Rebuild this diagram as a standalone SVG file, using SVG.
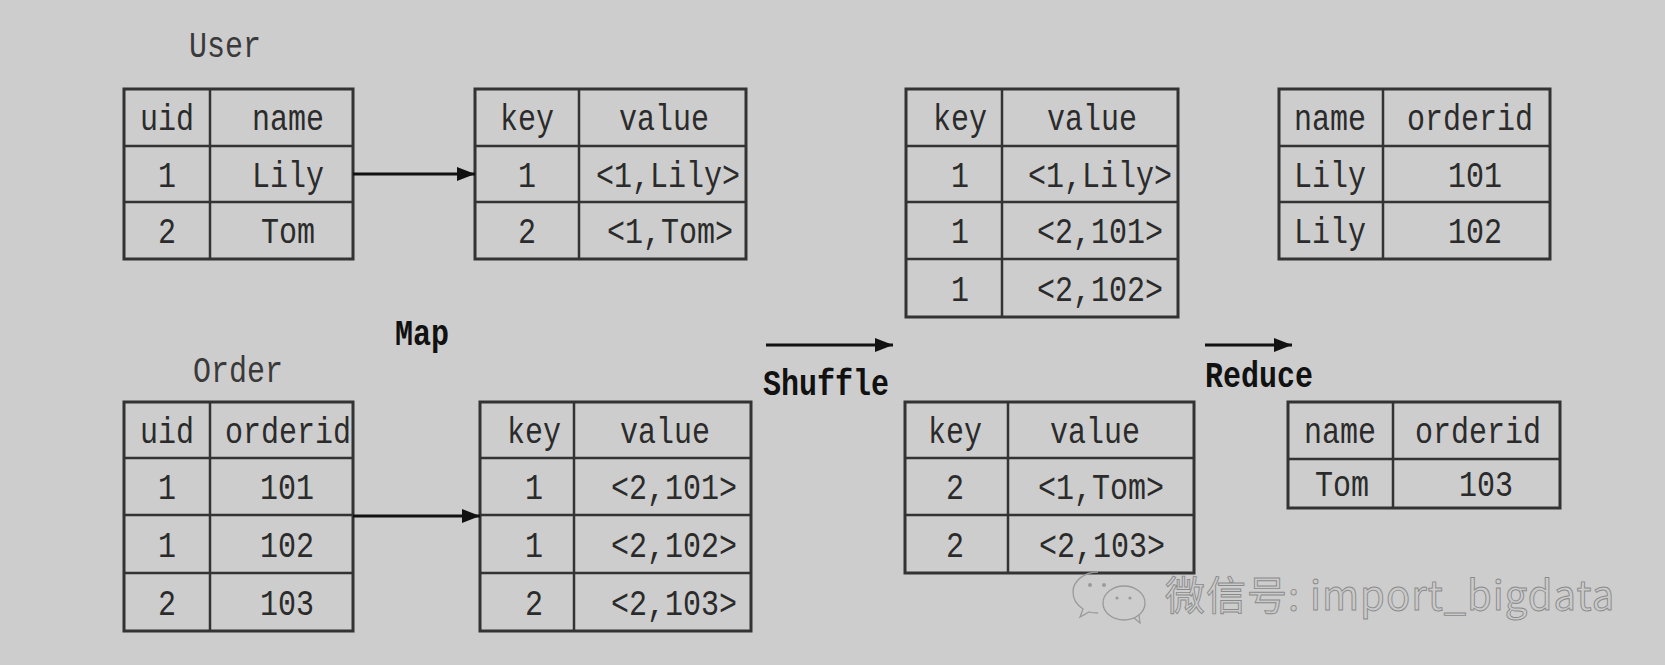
<svg xmlns="http://www.w3.org/2000/svg" width="1665" height="665" viewBox="0 0 1665 665">
<defs>
<style>
.bg{fill:#cdcdcd}
.tb rect{fill:none;stroke:#333;stroke-width:3}
.tb line{stroke:#333;stroke-width:2.5}
.t{font-family:"Liberation Mono","DejaVu Sans Mono",monospace;font-size:30px;fill:#2b2b2b;text-anchor:middle}
.lbl{font-family:"Liberation Mono","DejaVu Sans Mono",monospace;font-size:30px;fill:#3a3a3a;text-anchor:middle}
.b{font-family:"Liberation Mono","DejaVu Sans Mono",monospace;font-size:30px;font-weight:bold;fill:#111}
.conn line{stroke:#111;stroke-width:3}
.wm{font-family:"Noto Sans CJK SC","Noto Sans",sans-serif;font-size:40px;letter-spacing:1px;fill:#cacaca;stroke:#8a8a8a;stroke-width:0.9}
.ic{fill:none;stroke:#9a9a9a;stroke-width:1.3}
</style>
<marker id="ah" markerUnits="userSpaceOnUse" markerWidth="18" markerHeight="14" refX="18" refY="7" orient="auto">
<path d="M0,0 L18,7 L0,14 Z" fill="#111"/>
</marker>
</defs>
<rect class="bg" x="0" y="0" width="1665" height="665"/>

<g id="label-user"><text class="lbl" transform="translate(225,57) scale(1,1.25)">User</text></g>
<g id="label-order"><text class="lbl" transform="translate(238,382) scale(1,1.25)">Order</text></g>

<g id="table-user" class="tb">
<rect x="124" y="89" width="229" height="170"/>
<line x1="210" y1="89" x2="210" y2="259"/>
<line x1="124" y1="146" x2="353" y2="146"/>
<line x1="124" y1="202" x2="353" y2="202"/>
<text class="t" transform="translate(167,130) scale(1,1.25)">uid</text>
<text class="t" transform="translate(288,130) scale(1,1.25)">name</text>
<text class="t" transform="translate(167,186.5) scale(1,1.25)">1</text>
<text class="t" transform="translate(288,186.5) scale(1,1.25)">Lily</text>
<text class="t" transform="translate(167,243) scale(1,1.25)">2</text>
<text class="t" transform="translate(288,243) scale(1,1.25)">Tom</text>
</g>

<g id="table-map-user" class="tb">
<rect x="475" y="89" width="271" height="170"/>
<line x1="579" y1="89" x2="579" y2="259"/>
<line x1="475" y1="146" x2="746" y2="146"/>
<line x1="475" y1="202" x2="746" y2="202"/>
<text class="t" transform="translate(527,130) scale(1,1.25)">key</text>
<text class="t" transform="translate(664,130) scale(1,1.25)">value</text>
<text class="t" transform="translate(527,186.5) scale(1,1.25)">1</text>
<text class="t" transform="translate(668,186.5) scale(1,1.25)">&lt;1,Lily&gt;</text>
<text class="t" transform="translate(527,243) scale(1,1.25)">2</text>
<text class="t" transform="translate(670,243) scale(1,1.25)">&lt;1,Tom&gt;</text>
</g>

<g id="table-order" class="tb">
<rect x="124" y="402" width="229" height="229"/>
<line x1="210" y1="402" x2="210" y2="631"/>
<line x1="124" y1="458" x2="353" y2="458"/>
<line x1="124" y1="515" x2="353" y2="515"/>
<line x1="124" y1="573" x2="353" y2="573"/>
<text class="t" transform="translate(167,442.5) scale(1,1.25)">uid</text>
<text class="t" transform="translate(288,442.5) scale(1,1.25)">orderid</text>
<text class="t" transform="translate(167,499) scale(1,1.25)">1</text>
<text class="t" transform="translate(287,499) scale(1,1.25)">101</text>
<text class="t" transform="translate(167,556.5) scale(1,1.25)">1</text>
<text class="t" transform="translate(287,556.5) scale(1,1.25)">102</text>
<text class="t" transform="translate(167,614.5) scale(1,1.25)">2</text>
<text class="t" transform="translate(287,614.5) scale(1,1.25)">103</text>
</g>

<g id="table-map-order" class="tb">
<rect x="480" y="402" width="271" height="229"/>
<line x1="574" y1="402" x2="574" y2="631"/>
<line x1="480" y1="458" x2="751" y2="458"/>
<line x1="480" y1="515" x2="751" y2="515"/>
<line x1="480" y1="573" x2="751" y2="573"/>
<text class="t" transform="translate(534,442.5) scale(1,1.25)">key</text>
<text class="t" transform="translate(665,442.5) scale(1,1.25)">value</text>
<text class="t" transform="translate(534,499) scale(1,1.25)">1</text>
<text class="t" transform="translate(674,499) scale(1,1.25)">&lt;2,101&gt;</text>
<text class="t" transform="translate(534,556.5) scale(1,1.25)">1</text>
<text class="t" transform="translate(674,556.5) scale(1,1.25)">&lt;2,102&gt;</text>
<text class="t" transform="translate(534,614.5) scale(1,1.25)">2</text>
<text class="t" transform="translate(674,614.5) scale(1,1.25)">&lt;2,103&gt;</text>
</g>

<g id="table-shuffle-1" class="tb">
<rect x="906" y="89" width="272" height="228"/>
<line x1="1002" y1="89" x2="1002" y2="317"/>
<line x1="906" y1="146" x2="1178" y2="146"/>
<line x1="906" y1="202" x2="1178" y2="202"/>
<line x1="906" y1="259" x2="1178" y2="259"/>
<text class="t" transform="translate(960,130) scale(1,1.25)">key</text>
<text class="t" transform="translate(1092,130) scale(1,1.25)">value</text>
<text class="t" transform="translate(960,186.5) scale(1,1.25)">1</text>
<text class="t" transform="translate(1100,186.5) scale(1,1.25)">&lt;1,Lily&gt;</text>
<text class="t" transform="translate(960,243) scale(1,1.25)">1</text>
<text class="t" transform="translate(1100,243) scale(1,1.25)">&lt;2,101&gt;</text>
<text class="t" transform="translate(960,300.5) scale(1,1.25)">1</text>
<text class="t" transform="translate(1100,300.5) scale(1,1.25)">&lt;2,102&gt;</text>
</g>

<g id="table-shuffle-2" class="tb">
<rect x="905" y="402" width="289" height="171"/>
<line x1="1008" y1="402" x2="1008" y2="573"/>
<line x1="905" y1="458" x2="1194" y2="458"/>
<line x1="905" y1="515" x2="1194" y2="515"/>
<text class="t" transform="translate(955,442.5) scale(1,1.25)">key</text>
<text class="t" transform="translate(1095,442.5) scale(1,1.25)">value</text>
<text class="t" transform="translate(955,499) scale(1,1.25)">2</text>
<text class="t" transform="translate(1101,499) scale(1,1.25)">&lt;1,Tom&gt;</text>
<text class="t" transform="translate(955,556.5) scale(1,1.25)">2</text>
<text class="t" transform="translate(1102,556.5) scale(1,1.25)">&lt;2,103&gt;</text>
</g>

<g id="table-reduce-1" class="tb">
<rect x="1279" y="89" width="271" height="170"/>
<line x1="1383" y1="89" x2="1383" y2="259"/>
<line x1="1279" y1="146" x2="1550" y2="146"/>
<line x1="1279" y1="202" x2="1550" y2="202"/>
<text class="t" transform="translate(1330,130) scale(1,1.25)">name</text>
<text class="t" transform="translate(1470,130) scale(1,1.25)">orderid</text>
<text class="t" transform="translate(1330,186.5) scale(1,1.25)">Lily</text>
<text class="t" transform="translate(1475,186.5) scale(1,1.25)">101</text>
<text class="t" transform="translate(1330,243) scale(1,1.25)">Lily</text>
<text class="t" transform="translate(1475,243) scale(1,1.25)">102</text>
</g>

<g id="table-reduce-2" class="tb">
<rect x="1288" y="402" width="272" height="106"/>
<line x1="1393" y1="402" x2="1393" y2="508"/>
<line x1="1288" y1="459" x2="1560" y2="459"/>
<text class="t" transform="translate(1340,443) scale(1,1.25)">name</text>
<text class="t" transform="translate(1478,443) scale(1,1.25)">orderid</text>
<text class="t" transform="translate(1342,496) scale(1,1.25)">Tom</text>
<text class="t" transform="translate(1486,496) scale(1,1.25)">103</text>
</g>

<g id="connectors" class="conn">
<line x1="353" y1="174" x2="475" y2="174" marker-end="url(#ah)"/>
<line x1="353" y1="516" x2="480" y2="516" marker-end="url(#ah)"/>
<line x1="766" y1="345" x2="893" y2="345" marker-end="url(#ah)"/>
<line x1="1205" y1="345" x2="1292" y2="345" marker-end="url(#ah)"/>
</g>

<g id="label-map"><text class="b" transform="translate(395,345) scale(1,1.25)">Map</text></g>
<g id="label-shuffle"><text class="b" transform="translate(763,395) scale(1,1.25)">Shuffle</text></g>
<g id="label-reduce"><text class="b" transform="translate(1205,387) scale(1,1.25)">Reduce</text></g>

<g id="watermark">
<path class="ic" d="M1098,572 C1084,572 1073,581 1073,592 C1073,599 1077,605 1083,609 L1080,617 L1089,612 C1092,613 1095,613 1098,613"/>
<ellipse class="ic" cx="1124" cy="603" rx="21" ry="17"/>
<path class="ic" d="M1134,618 L1140,623 L1139,615"/>
<circle cx="1090" cy="585" r="2" fill="#9a9a9a"/>
<circle cx="1104" cy="585" r="2" fill="#9a9a9a"/>
<circle cx="1117" cy="598" r="1.6" fill="#9a9a9a"/>
<circle cx="1130" cy="598" r="1.6" fill="#9a9a9a"/>
<text class="wm" x="1165" y="610">微信号: import_bigdata</text>
</g>
</svg>
